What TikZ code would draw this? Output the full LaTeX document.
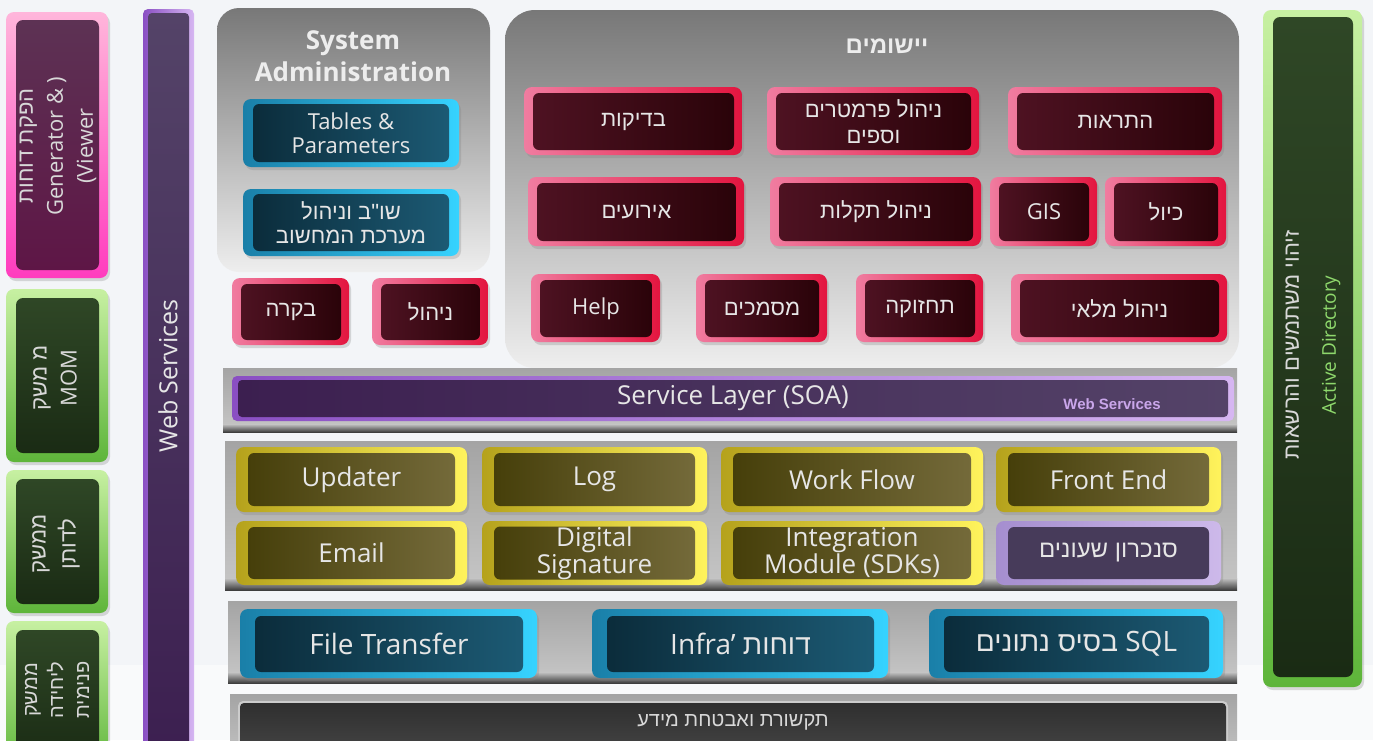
\documentclass[tikz,border=0pt]{standalone}
\usepackage{fontspec}
\setmainfont{Open Sans}
\newfontfamily\hebfont[Script=Hebrew]{Liberation Sans}
\newfontfamily\arialfont{Liberation Sans}
\TeXXeTstate=1
\usetikzlibrary{fit, shadows}

% page and panels
\definecolor{pagebg}{HTML}{F3F5F8}
\definecolor{floorbg}{HTML}{F9FAFB}
\definecolor{panelT}{HTML}{787878}
\definecolor{panelB}{HTML}{EEEEEE}
\definecolor{frameT}{HTML}{A4A4A4}
\definecolor{frameM}{HTML}{C4C4C4}
\definecolor{frameD}{HTML}{3E3E3E}
% tiles
\definecolor{rubyRimL}{HTML}{F07CA0}
\definecolor{rubyRimR}{HTML}{E3153F}
\definecolor{rubyCoreL}{HTML}{4E1222}
\definecolor{rubyCoreR}{HTML}{2A0309}
\definecolor{goldRimL}{HTML}{B5A21C}
\definecolor{goldRimR}{HTML}{FFF35C}
\definecolor{goldCoreL}{HTML}{463F0A}
\definecolor{goldCoreR}{HTML}{746A3A}
\definecolor{tealRimL}{HTML}{1A7FA8}
\definecolor{tealRimR}{HTML}{36D3FF}
\definecolor{tealCoreL}{HTML}{0B2C3B}
\definecolor{tealCoreR}{HTML}{1C5A74}
\definecolor{lilacRimL}{HTML}{A58ECF}
\definecolor{lilacRimR}{HTML}{CDB9EA}
\definecolor{lilacCore}{HTML}{473B5A}
\definecolor{grapeRimL}{HTML}{8A4FC3}
\definecolor{grapeRimR}{HTML}{D6B6F2}
\definecolor{grapeCoreL}{HTML}{3C1F50}
\definecolor{grapeCoreR}{HTML}{544368}
\definecolor{roseRimT}{HTML}{FFB6DB}
\definecolor{roseRimB}{HTML}{FF3CBE}
\definecolor{roseCoreT}{HTML}{5D3254}
\definecolor{roseCoreB}{HTML}{5E1646}
\definecolor{leafRimT}{HTML}{C7F0A2}
\definecolor{leafRimB}{HTML}{5EB53A}
\definecolor{leafCoreT}{HTML}{2F4726}
\definecolor{leafCoreB}{HTML}{1A2B14}
\definecolor{slateT}{HTML}{2F2F2F}
\definecolor{slateB}{HTML}{474747}
\definecolor{tilefg}{HTML}{E6E6E6}
\definecolor{sidefg}{HTML}{D8D8D8}
\definecolor{adgreen}{HTML}{8ED86C}
\definecolor{wslabel}{HTML}{C9A6EA}

\newcommand{\heb}[1]{{\hebfont\beginR #1\endR}}

\begin{document}
\begin{tikzpicture}[
    x=1pt, y=-1pt,
    % --- Styles ---
    tile text/.style={text=tilefg, align=center, inner sep=0pt, outer sep=0pt},
    tile shadow/.style={drop shadow={opacity=0.28, shadow xshift=2pt, shadow yshift=-3pt}},
    ruby rim/.style={tile shadow, rounded corners=8pt, left color=rubyRimL, right color=rubyRimR},
    ruby core/.style={tile text, rounded corners=6pt, left color=rubyCoreL, right color=rubyCoreR, font=\fontsize{22}{26}\selectfont},
    gold rim/.style={tile shadow, rounded corners=8pt, left color=goldRimL, right color=goldRimR},
    gold core/.style={tile text, rounded corners=6pt, left color=goldCoreL, right color=goldCoreR, font=\fontsize{26}{27}\selectfont},
    lilac rim/.style={tile shadow, rounded corners=8pt, left color=lilacRimL, right color=lilacRimR},
    lilac core/.style={tile text, rounded corners=6pt, fill=lilacCore, font=\fontsize{24}{27}\selectfont},
    teal rim/.style={tile shadow, rounded corners=8pt, left color=tealRimL, right color=tealRimR},
    teal core/.style={tile text, rounded corners=6pt, left color=tealCoreL, right color=tealCoreR, font=\fontsize{22}{24}\selectfont},
    grape rim/.style={rounded corners=5pt, left color=grapeRimL, right color=grapeRimR},
    grape core/.style={tile text, rounded corners=4pt, left color=grapeCoreL, right color=grapeCoreR, font=\fontsize{26}{28}\selectfont},
    rose rim/.style={tile shadow, rounded corners=8pt, top color=roseRimT, bottom color=roseRimB},
    rose core/.style={inner sep=0pt, rounded corners=7pt, top color=roseCoreT, bottom color=roseCoreB},
    leaf rim/.style={tile shadow, rounded corners=8pt, top color=leafRimT, bottom color=leafRimB},
    leaf core/.style={inner sep=0pt, rounded corners=7pt, top color=leafCoreT, bottom color=leafCoreB},
    side text/.style={text=sidefg, align=center, rotate=90, inner sep=0pt, font=\fontsize{22}{30}\selectfont},
    panel/.style={top color=panelT, bottom color=panelB},
    panel title/.style={text=white!93!black, align=center, font=\bfseries\fontsize{26}{32}\selectfont},
    layer frame/.style={top color=frameT, bottom color=frameM},
    layer foot/.style={top color=frameM, bottom color=frameD}
]
    \useasboundingbox (0,0) rectangle (1373,740);
    \fill[pagebg] (0,0) rectangle (1373,740);
    \fill[floorbg] (0,665) rectangle (1373,740);

    %% --- LEFT COLUMN ---
    \path[rose rim] (6,12) rectangle (108,278);
    \node[rose core, fit={(16,20) (99,270)}] (gen) {};
    \node[side text] (genText) at (58,146) {\heb{הפקת דוחות}\\Generator \& )\\(Viewer};

    \foreach \id/\ya/\yb in {mom/289/462, dotan/470/613, unit/621/770}
        \path[leaf rim] (6,\ya) rectangle (108,\yb)
            node[leaf core, fit={(16,\ya+9) (99,\yb-9)}] (\id) {};
    \node[side text] (momText) at (55,378) {\heb{מ משק}\\MOM};
    \node[side text] (dotanText) at (56,544) {\heb{ממשק}\\\heb{לדותן}};
    \node[side text, font=\fontsize{20}{26}\selectfont] (unitText) at (57,690)
        {\heb{ממשק}\\\heb{ליחידה}\\\heb{פנימית}};

    % Web Services column
    \path[grape rim] (143,9) rectangle (194,770);
    \node[grape core, top color=grapeCoreR, bottom color=grapeCoreL, fit={(148,13) (189,765)}] (wsBar) {};
    \node[side text, text=tilefg, font=\fontsize{25}{28}\selectfont] (wsText) at (168,376) {Web Services};

    %% --- SYSTEM ADMINISTRATION ---
    \path[panel, rounded corners=22pt] (217,8) rectangle (490,272);
    \node[panel title] (sysTitle) at (353,56) {System\\Administration};
    \foreach \id/\ya/\yb/\txt in {tables/99/167/{Tables \&\\Parameters},
                                 sysctl/189/256/{\heb{שו"ב וניהול}\\\heb{מערכת המחשוב}}} {
        \path[teal rim] (243,\ya) rectangle (459,\yb);
        \node[teal core, minimum width=196, minimum height={\yb-\ya-10}]
            (\id) at (351,{(\ya+\yb)/2}) {\txt};
    }

    %% --- APPLICATIONS ---
    \path[panel, rounded corners=30pt] (505,10) rectangle (1239,368);
    \node[panel title, font=\hebfont\bfseries\fontsize{24}{28}\selectfont] (appsTitle) at (887,46) {\heb{יישומים}};

    \foreach \id/\xa/\ya/\xb/\yb/\txt in {
            check/232/278/349/345/{\heb{בקרה}},
            manage/372/278/488/345/{\heb{ניהול}},
            tests/524/87/742/155/{\heb{בדיקות}},
            params/767/87/979/155/{\heb{ניהול פרמטרים}\\\heb{וספים}},
            alerts/1008/87/1222/155/{\heb{התראות}},
            events/528/177/744/246/{\heb{אירועים}},
            faults/770/177/981/246/{\heb{ניהול תקלות}},
            gis/990/177/1097/246/GIS,
            calib/1105/177/1226/246/{\heb{כיול}},
            help/531/274/660/342/Help,
            docs/696/274/827/342/{\heb{מסמכים}},
            maint/856/274/983/342/{\heb{תחזוקה}},
            stock/1011/274/1227/342/{\heb{ניהול מלאי}}} {
        \path[ruby rim] (\xa,\ya) rectangle (\xb,\yb);
        \node[ruby core, minimum width={\xb-\xa-17}, minimum height={\yb-\ya-11}]
            (\id) at ({(\xa+\xb)/2+0.5},{(\ya+\yb)/2+0.5}) {\txt};
    }

    %% --- SERVICE LAYER ---
    \path[layer frame] (223,368) rectangle (1237,426);
    \path[layer foot] (223,424) rectangle (1237,432);
    \path[grape rim] (232,376) rectangle (1234,421);
    \node[grape core, minimum width=990, minimum height=37] (soa) at (733,398.5) {Service Layer (SOA)};
    \node[text=wslabel, font=\arialfont\bfseries\fontsize{15}{17}\selectfont] (soaWs) at (1112,404) {Web Services};

    %% --- COMMON SERVICES ---
    \path[layer frame] (225,441) rectangle (1237,580);
    \path[layer foot] (225,578) rectangle (1237,590);
    \foreach \id/\xa/\ya/\xb/\yb/\txt in {
            updater/236/447/467/512/Updater,
            log/482/447/707/512/Log,
            flow/721/447/983/512/Work Flow,
            front/996/447/1221/512/Front End,
            email/236/521/467/585/Email,
            sign/482/521/707/585/{Digital\\Signature},
            sdk/721/521/983/585/{Integration\\Module (SDKs)}} {
        \path[gold rim] (\xa,\ya) rectangle (\xb,\yb);
        \node[gold core, minimum width={\xb-\xa-24}, minimum height={\yb-\ya-12}]
            (\id) at ({(\xa+\xb)/2},{(\ya+\yb)/2}) {\txt};
    }
    \path[lilac rim] (996,521) rectangle (1221,585);
    \node[lilac core, minimum width=201, minimum height=52] (clocks) at (1108.5,553) {\heb{סנכרון שעונים}};

    %% --- INFRASTRUCTURE ---
    \path[layer frame] (228,601) rectangle (1237,674);
    \path[layer foot] (228,672) rectangle (1237,683);
    \foreach \id/\xa/\xb/\txt in {
            files/240/537/File Transfer,
            infra/592/888/{Infra' \heb{דוחות}},
            sql/929/1223/{\heb{בסיס נתונים} SQL}} {
        \path[teal rim] (\xa,609) rectangle (\xb,678);
        \node[teal core, font=\fontsize{28}{30}\selectfont, minimum width={\xb-\xa-29}, minimum height=56]
            (\id) at ({(\xa+\xb)/2+0.5},644) {\txt};
    }

    %% --- NETWORK & SECURITY ---
    \path[layer frame] (230,694) rectangle (1237,760);
    \path[rounded corners=5pt, fill=white!80!black] (238,701) rectangle (1228,760);
    \node[inner sep=0pt, rounded corners=4pt, top color=slateT, bottom color=slateB, fit={(240,703) (1226,760)}] (netBar) {};
    \node[text=sidefg, font=\hebfont\fontsize{20}{22}\selectfont] (netText) at (733,722) {\heb{תקשורת ואבטחת מידע}};

    %% --- ACTIVE DIRECTORY ---
    \path[leaf rim] (1263,10) rectangle (1362,687);
    \node[leaf core, fit={(1273,17) (1353,677)}] (ad) {};
    \node[side text, font=\fontsize{22}{37}\selectfont] (adText) at (1313,345)
        {\heb{זיהוי משתמשים והרשאות}\\{\color{adgreen}\fontsize{19}{37}\selectfont Active Directory}};
\end{tikzpicture}
\end{document}
